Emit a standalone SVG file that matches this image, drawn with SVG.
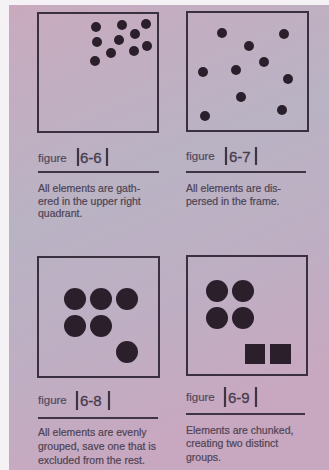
<svg xmlns="http://www.w3.org/2000/svg" width="329" height="470" viewBox="0 0 329 470">
<defs>
<linearGradient id="bg" x1="0" y1="0" x2="0.3" y2="1">
<stop offset="0" stop-color="#c9aabe"/>
<stop offset="0.45" stop-color="#b9b3c4"/>
<stop offset="0.75" stop-color="#bfaec3"/>
<stop offset="1" stop-color="#c8a8c0"/>
</linearGradient>
<style>
.frame{fill:none;stroke:#3a3040;stroke-width:2}
.dot{fill:#2a1f2b}
.rule{stroke:#3e3444;stroke-width:2}
.bar{stroke:#3e3444;stroke-width:2.2}
.fig{font-family:"Liberation Sans",Arial,sans-serif;font-size:11.5px;fill:#54495c;stroke:#54495c;stroke-width:0.2}
.num{font-family:"Liberation Sans",Arial,sans-serif;font-size:15px;fill:#463c4e;stroke:#463c4e;stroke-width:0.3}
.cap{font-family:"Liberation Sans",Arial,sans-serif;font-size:10.5px;fill:#4e4354;stroke:#4e4354;stroke-width:0.2}
</style>
</defs>
<rect width="329" height="470" fill="#f4f2f4"/>
<rect x="9" y="5" width="320" height="465" fill="url(#bg)"/>

<g id="fig-6-6">
<rect class="frame" x="38" y="13" width="120" height="119"/>
<g class="dot">
<circle cx="96" cy="27" r="5"/><circle cx="122" cy="25" r="5"/><circle cx="146" cy="24" r="5"/>
<circle cx="97" cy="42" r="5"/><circle cx="135" cy="34" r="5"/><circle cx="119" cy="40" r="5"/>
<circle cx="147" cy="46" r="5"/><circle cx="111" cy="53" r="5"/><circle cx="134" cy="51" r="5"/>
<circle cx="95" cy="61" r="5"/>
</g>
<text class="fig" x="38" y="162">figure</text>
<line class="bar" x1="78" y1="148" x2="78" y2="166"/>
<text class="num" x="80" y="163">6-6</text>
<line class="bar" x1="107" y1="148" x2="107" y2="166"/>
<line class="rule" x1="38" y1="172" x2="159" y2="172"/>
<text class="cap" x="38" y="192">All elements are gath-</text>
<text class="cap" x="38" y="205">ered in the upper right</text>
<text class="cap" x="38" y="217">quadrant.</text>
</g>

<g id="fig-6-7">
<rect class="frame" x="187" y="12" width="121" height="119"/>
<g class="dot">
<circle cx="222" cy="33" r="5"/><circle cx="284" cy="34" r="5"/><circle cx="249" cy="46" r="5"/>
<circle cx="264" cy="62" r="5"/><circle cx="203" cy="72" r="5"/><circle cx="236" cy="70" r="5"/>
<circle cx="288" cy="79" r="5"/><circle cx="241" cy="97" r="5"/><circle cx="282" cy="110" r="5"/>
<circle cx="205" cy="116" r="5"/>
</g>
<text class="fig" x="186" y="160">figure</text>
<line class="bar" x1="226" y1="147" x2="226" y2="165"/>
<text class="num" x="229" y="162">6-7</text>
<line class="bar" x1="256" y1="147" x2="256" y2="165"/>
<line class="rule" x1="186" y1="172" x2="306" y2="172"/>
<text class="cap" x="186" y="192">All elements are dis-</text>
<text class="cap" x="186" y="205">persed in the frame.</text>
</g>

<g id="fig-6-8">
<rect class="frame" x="38" y="257" width="121" height="120"/>
<g class="dot">
<circle cx="75" cy="299" r="11"/><circle cx="101" cy="299" r="11"/><circle cx="127" cy="299" r="11"/>
<circle cx="75" cy="326" r="11"/><circle cx="101" cy="326" r="11"/>
<circle cx="127" cy="352" r="11"/>
</g>
<text class="fig" x="38" y="404">figure</text>
<line class="bar" x1="77" y1="391" x2="77" y2="410"/>
<text class="num" x="80" y="406">6-8</text>
<line class="bar" x1="109" y1="391" x2="109" y2="410"/>
<line class="rule" x1="38" y1="418" x2="158" y2="418"/>
<text class="cap" x="38" y="436">All elements are evenly</text>
<text class="cap" x="38" y="450">grouped, save one that is</text>
<text class="cap" x="38" y="464">excluded from the rest.</text>
</g>

<g id="fig-6-9">
<rect class="frame" x="187" y="256" width="120" height="119"/>
<g class="dot">
<circle cx="217" cy="291" r="11"/><circle cx="243" cy="291" r="11"/>
<circle cx="217" cy="318" r="11"/><circle cx="243" cy="318" r="11"/>
<rect x="245" y="344" width="20" height="20"/><rect x="270" y="344" width="21" height="20"/>
</g>
<text class="fig" x="186" y="401">figure</text>
<line class="bar" x1="225" y1="387" x2="225" y2="407"/>
<text class="num" x="228" y="403">6-9</text>
<line class="bar" x1="256" y1="387" x2="256" y2="407"/>
<line class="rule" x1="186" y1="414" x2="305" y2="414"/>
<text class="cap" x="186" y="434">Elements are chunked,</text>
<text class="cap" x="186" y="447">creating two distinct</text>
<text class="cap" x="186" y="461">groups.</text>
</g>
</svg>
